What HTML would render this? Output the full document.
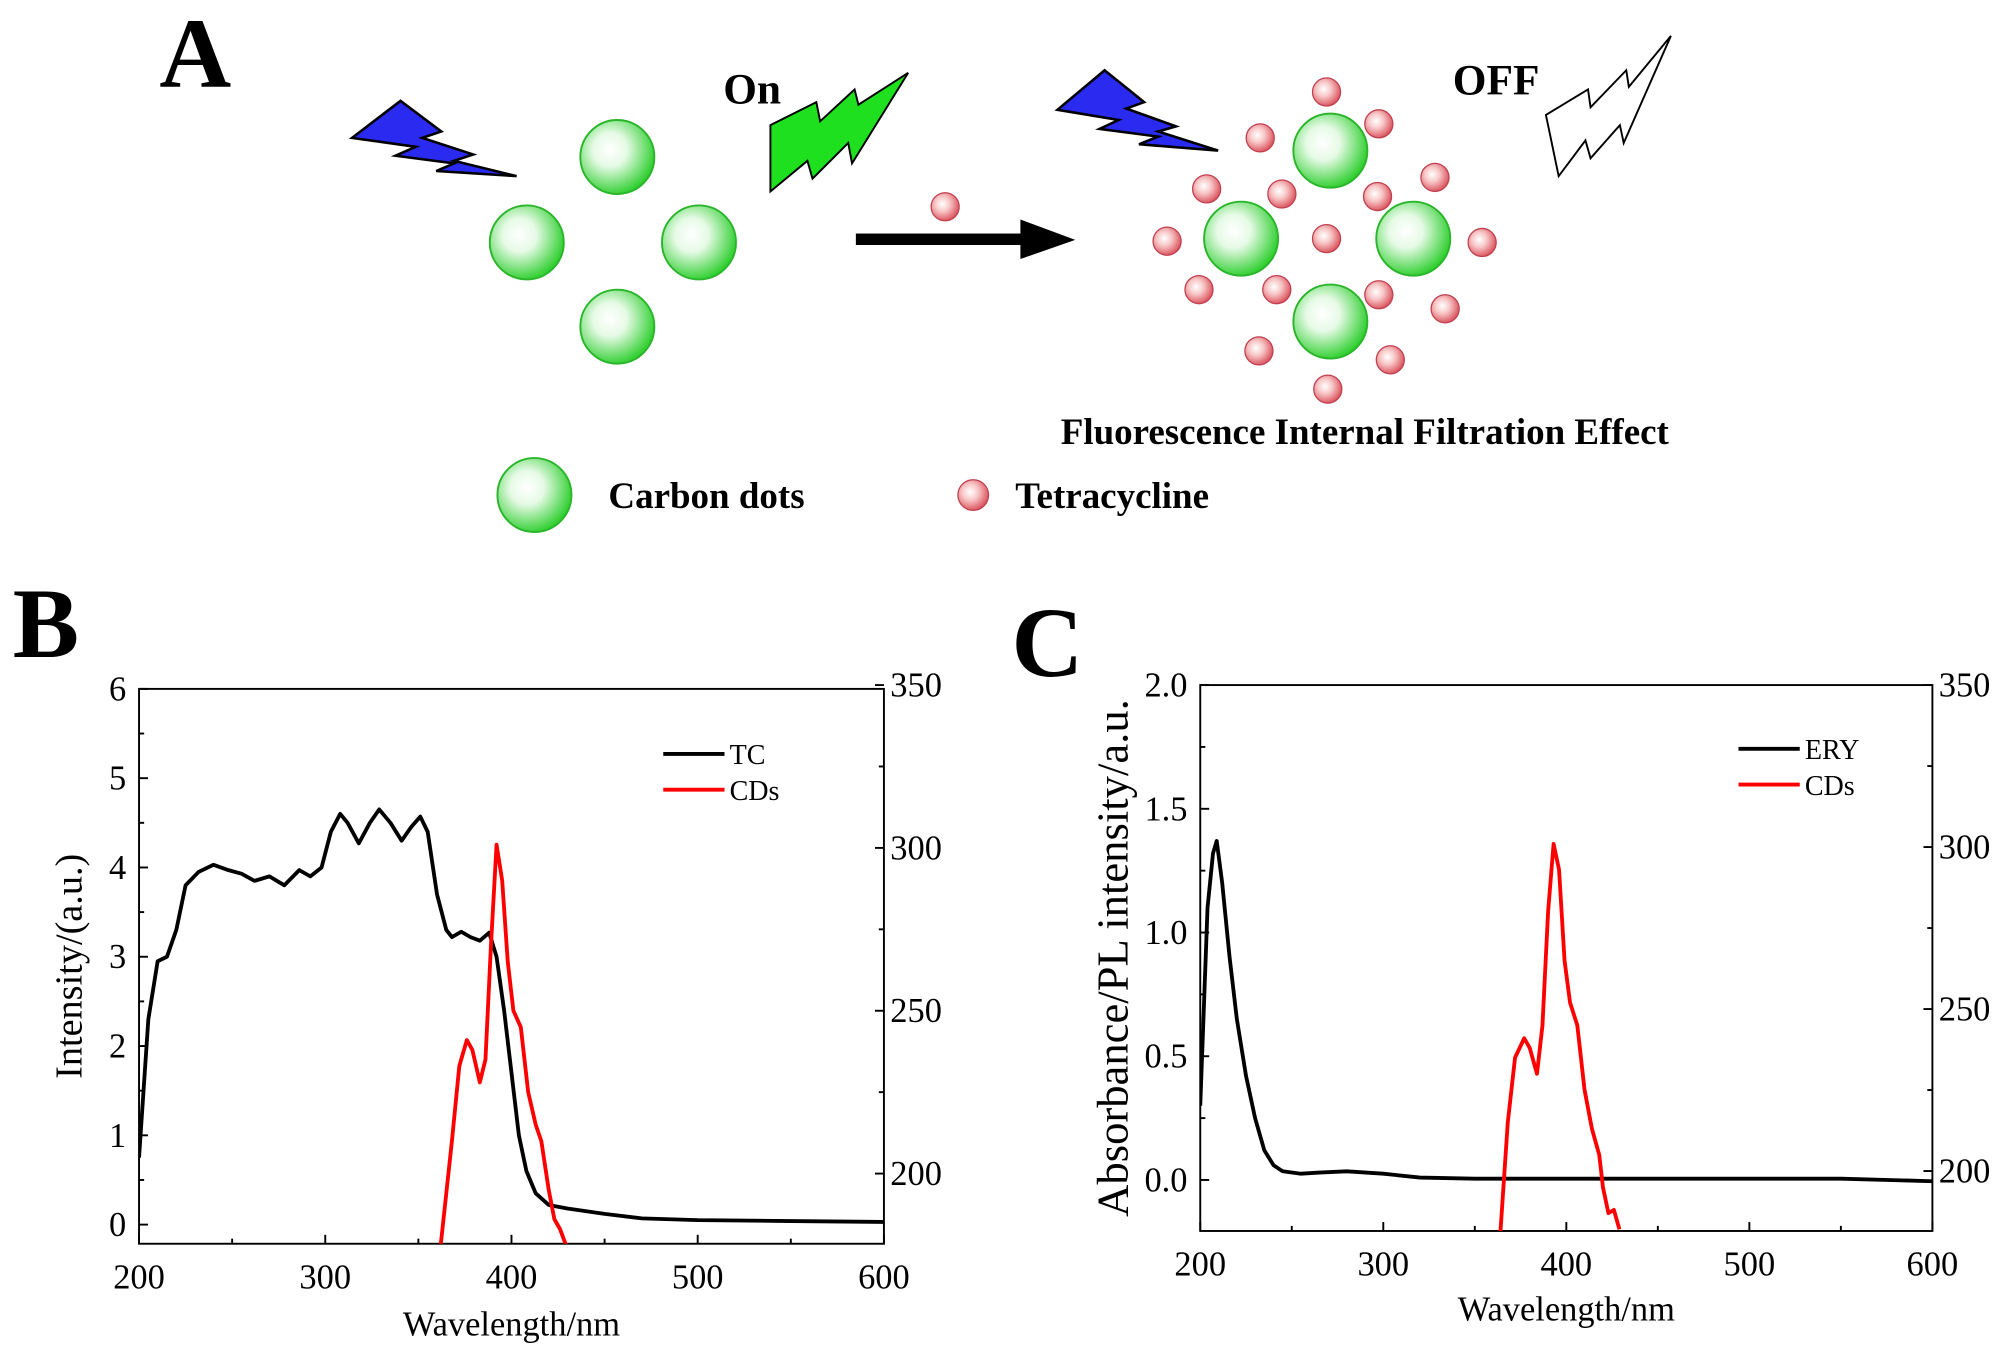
<!DOCTYPE html>
<html><head><meta charset="utf-8"><style>
html,body{margin:0;padding:0;background:#fff;}
svg{display:block;font-family:"Liberation Serif",serif;}
</style></head><body>
<svg id="fig" width="2000" height="1351" viewBox="0 0 1568 1059" xmlns="http://www.w3.org/2000/svg">
<defs>
<radialGradient id="gg" cx="0.4" cy="0.4" r="0.65"><stop offset="0" stop-color="#ffffff"/><stop offset="0.35" stop-color="#e6fae6"/><stop offset="1" stop-color="#22cc22"/></radialGradient>
<radialGradient id="rg" cx="0.4" cy="0.4" r="0.65"><stop offset="0" stop-color="#ffffff"/><stop offset="0.4" stop-color="#f8c8c8"/><stop offset="1" stop-color="#d84a55"/></radialGradient>
</defs>
<g id="panelA">
<text x="125" y="68" font-size="78" font-weight="bold">A</text>
<polygon points="276,108 314,79 346,103 331,108 371,121 356,126 405,138 342,134 356,128 310,122 326,115" fill="#2a2af0" stroke="#000" stroke-width="2"/>
<polygon points="604,98 640,80 643,95 670,70 673,82 712,57 668,128 665,112 637,140 633,126 604,150" fill="#1ee01e" stroke="#000" stroke-width="1.5"/>
<text x="567" y="81" font-size="34" font-weight="bold">On</text>
<g stroke="#2bb52b" stroke-width="1.5" fill="url(#gg)">
<circle cx="484" cy="123" r="29"/><circle cx="413" cy="190" r="29"/><circle cx="548" cy="190" r="29"/><circle cx="484" cy="256" r="29"/></g>
<circle cx="741" cy="162" r="11" fill="url(#rg)" stroke="#c04050" stroke-width="1"/>
<g><rect x="671" y="183" width="132" height="9" fill="#000"/><polygon points="800,172 843,188 800,203" fill="#000"/></g>
<polygon points="829,86 866,55 897,80 883,85 922,99 908,103 955,118 893,113 908,107 862,101 877,94" fill="#2a2af0" stroke="#000" stroke-width="2"/>
<text x="1139" y="74" font-size="34" font-weight="bold">OFF</text>
<polygon points="1212,90 1245,70 1247,84 1275,55 1277,68 1310,28 1273,112 1270,98 1247,124 1243,110 1222,138" fill="#fff" stroke="#000" stroke-width="1.5"/>
<g stroke="#2bb52b" stroke-width="1.5" fill="url(#gg)">
<circle cx="1043" cy="118" r="29"/><circle cx="973" cy="187" r="29"/><circle cx="1108" cy="187" r="29"/><circle cx="1043" cy="252" r="29"/></g>
<g fill="url(#rg)" stroke="#c04050" stroke-width="1">
<circle cx="1040" cy="72" r="11"/><circle cx="988" cy="108" r="11"/><circle cx="1081" cy="97" r="11"/><circle cx="946" cy="148" r="11"/><circle cx="1005" cy="152" r="11"/><circle cx="1080" cy="154" r="11"/><circle cx="1125" cy="139" r="11"/><circle cx="915" cy="189" r="11"/><circle cx="1040" cy="187" r="11"/><circle cx="1162" cy="190" r="11"/><circle cx="940" cy="227" r="11"/><circle cx="1001" cy="227" r="11"/><circle cx="1081" cy="231" r="11"/><circle cx="1133" cy="242" r="11"/><circle cx="987" cy="275" r="11"/><circle cx="1090" cy="282" r="11"/><circle cx="1041" cy="305" r="11"/></g>
<text x="1070" y="348" font-size="29" font-weight="bold" text-anchor="middle">Fluorescence Internal Filtration Effect</text>
<circle cx="419" cy="388" r="29" fill="url(#gg)" stroke="#2bb52b" stroke-width="1.5"/>
<text x="477" y="398" font-size="29" font-weight="bold">Carbon dots</text>
<circle cx="763" cy="388" r="12" fill="url(#rg)" stroke="#c04050" stroke-width="1"/>
<text x="796" y="398" font-size="29" font-weight="bold">Tetracycline</text>
</g>
<text x="10" y="515" font-size="78" font-weight="bold">B</text>
<text x="793" y="530" font-size="78" font-weight="bold">C</text>
<g id="chartB"></g>
<g id="chartC"></g>
</svg>
<script>
// Panel B data
const tcX=[200,205,210,215,220,225,232,240,248,255,262,270,278,286,292,298,303,308,312,318,324,329,335,341,346,351,355,360,365,368,373,378,383,388,392,396,400,404,408,413,420,430,450,470,500,550,600];
const tcY=[0.75,2.3,2.95,3.0,3.3,3.8,3.95,4.03,3.97,3.93,3.85,3.9,3.8,3.97,3.9,4.0,4.4,4.6,4.5,4.27,4.5,4.65,4.5,4.3,4.45,4.57,4.4,3.7,3.3,3.22,3.28,3.22,3.18,3.27,3.0,2.4,1.7,1.0,0.6,0.35,0.22,0.18,0.12,0.07,0.05,0.04,0.03];
const cdBX=[362,368,372,376,379,383,386,389,392,395,398,401,405,409,413,416,420,423,426,428,430];
const cdBY=[178,210,233,241,238,228,235,270,301,290,265,250,245,225,215,210,195,186,183,180,177];
// Panel C data
const eryX=[200,204,207,209,212,216,220,225,230,235,240,245,255,265,280,300,320,350,550,600];
const eryY=[0.3,1.1,1.32,1.37,1.2,0.9,0.65,0.42,0.25,0.12,0.06,0.035,0.025,0.03,0.035,0.025,0.01,0.005,0.005,-0.005];
const cdCX=[364,368,372,377,380,384,387,390,393,396,399,402,406,410,414,418,420,423,426,429];
const cdCY=[181,215,235,241,238,230,245,280,301,293,265,252,245,225,213,205,195,187,188,182];
const xTicks=[200,300,400,500,600];
const bLeftTicks=[0,1,2,3,4,5,6];
const cLeftTicks=[0.0,0.5,1.0,1.5,2.0];
const rightTicks=[200,250,300,350];

const NS="http://www.w3.org/2000/svg";
function mk(p,t,a){const e=document.createElementNS(NS,t);for(const k in a)e.setAttribute(k,a[k]);p.appendChild(e);return e;}
function chart(g,o){
  const L=o.L,R=o.R,T=o.T,B=o.B;
  const sx=v=>L+(v-200)/400*(R-L);
  const syL=v=>o.yl0+(v-o.yl0v)*(o.yl1-o.yl0)/(o.yl1v-o.yl0v);
  const syR=v=>o.yr0+(v-o.yr0v)*(o.yr1-o.yr0)/(o.yr1v-o.yr0v);
  const clip=mk(g,'clipPath',{id:o.id+'clip'});mk(clip,'rect',{x:L,y:T,width:R-L,height:B-T});
  const fr=mk(g,'rect',{x:L,y:T,width:R-L,height:B-T,fill:'none',stroke:'#000','stroke-width':1.5});
  
  
  for(let v=200;v<=600;v+=50){const x=sx(v);mk(g,'line',{x1:x,x2:x,y1:B,y2:B-(v%100?4:7),stroke:'#000','stroke-width':1.5});}
  xTicks.forEach(v=>{const t=mk(g,'text',{x:sx(v),y:B+35,'font-size':27,'text-anchor':'middle'});t.textContent=v;
    
    });
  o.lt.forEach((v,i)=>{const y=syL(v);mk(g,'line',{x1:L,x2:L+7,y1:y,y2:y,stroke:'#000','stroke-width':1.5});
    if(i<o.lt.length-1){const ym=syL((v+o.lt[i+1])/2);mk(g,'line',{x1:L,x2:L+4,y1:ym,y2:ym,stroke:'#000','stroke-width':1.5});}
    const t=mk(g,'text',{x:L-10,y:y+9,'font-size':27,'text-anchor':'end'});t.textContent=o.fmt(v);
    
    });
  rightTicks.forEach((v,i)=>{const y=syR(v);mk(g,'line',{x1:R,x2:R-7,y1:y,y2:y,stroke:'#000','stroke-width':1.5});
    const ym=syR(v+25);if(ym>T)mk(g,'line',{x1:R,x2:R-4,y1:ym,y2:ym,stroke:'#000','stroke-width':1.5});
    const t=mk(g,'text',{x:R+5,y:y+9,'font-size':27});t.textContent=v;
    
    });
  const xt=mk(g,'text',{x:(L+R)/2,y:B+o.xtDy,'font-size':27,'text-anchor':'middle'});xt.textContent='Wavelength/nm';
  
  
  const yt=mk(g,'text',{x:0,y:0,'font-size':o.ytSize,'text-anchor':'middle',transform:`translate(${o.ytX},${(T+B)/2}) rotate(-90)`});yt.textContent=o.ytitle;
  
  
  const cg=mk(g,'g',{'clip-path':`url(#${o.id}clip)`});
  const p1=mk(cg,'path',{d:o.ax.map((x,i)=>(i?'L':'M')+sx(x).toFixed(1)+','+syL(o.ay[i]).toFixed(1)).join(''),fill:'none',stroke:'#000','stroke-width':3,'stroke-linejoin':'round'});
  
  
  const p2=mk(cg,'path',{d:o.bx.map((x,i)=>(i?'L':'M')+sx(x).toFixed(1)+','+syR(o.by[i]).toFixed(1)).join(''),fill:'none',stroke:'#f00','stroke-width':3,'stroke-linejoin':'round'});
  
  
  const lg=mk(g,'g',{});
  
  
  mk(lg,'line',{x1:o.lx,x2:o.lx+48,y1:o.ly,y2:o.ly,stroke:'#000','stroke-width':3});
  mk(lg,'line',{x1:o.lx,x2:o.lx+48,y1:o.ly+28,y2:o.ly+28,stroke:'#f00','stroke-width':3});
  const a=mk(lg,'text',{x:o.lx+52,y:o.ly+8,'font-size':22});a.textContent=o.s1;
  const b=mk(lg,'text',{x:o.lx+52,y:o.ly+36,'font-size':22});b.textContent='CDs';
}
chart(document.getElementById('chartB'),{id:'b',L:109,R:693,T:540,B:975,yl0:960,yl0v:0,yl1:540,yl1v:6,yr0:920,yr0v:200,yr1:537,yr1v:350,
  lt:bLeftTicks,fmt:v=>v,ytitle:'Intensity/(a.u.)',ytSize:30,ytX:64,xtDy:72,ax:tcX,ay:tcY,bx:cdBX,by:cdBY,s1:'TC',lx:520,ly:591});
chart(document.getElementById('chartC'),{id:'c',L:941,R:1515,T:537,B:965,yl0:925,yl0v:0,yl1:537,yl1v:2,yr0:918,yr0v:200,yr1:537,yr1v:350,
  lt:cLeftTicks,fmt:v=>v.toFixed(1),ytitle:'Absorbance/PL intensity/a.u.',ytSize:35,ytX:884,xtDy:70,ax:eryX,ay:eryY,bx:cdCX,by:cdCY,s1:'ERY',lx:1363,ly:587});
</script>
</body></html>
